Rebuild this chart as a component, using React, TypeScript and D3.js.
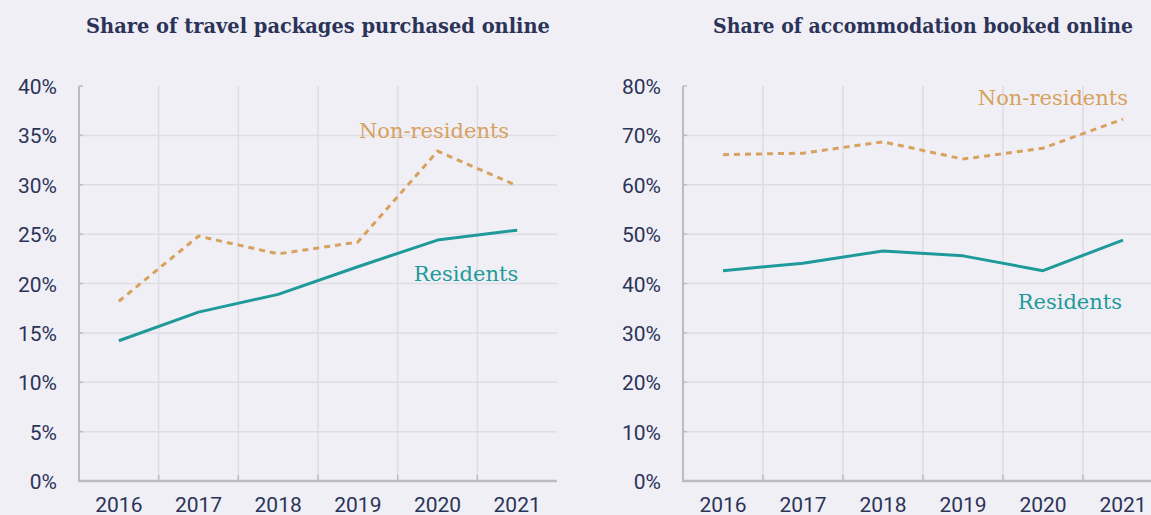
import React from "react";
import * as d3 from "d3";

const years = ["2016", "2017", "2018", "2019", "2020", "2021"];

const packagesResidents = [14.2, 17.1, 18.9, 21.7, 24.4, 25.4];
const packagesNonResidents = [18.2, 24.8, 23.0, 24.2, 33.4, 29.9];

const accommodationResidents = [42.6, 44.1, 46.6, 45.6, 42.6, 48.8];
const accommodationNonResidents = [66.1, 66.4, 68.7, 65.2, 67.4, 73.3];

const packagesTicks = [0, 5, 10, 15, 20, 25, 30, 35, 40];
const accommodationTicks = [0, 10, 20, 30, 40, 50, 60, 70, 80];

const packagesTitle = "Share of travel packages purchased online";
const accommodationTitle = "Share of accommodation booked online";

const W = 1151;
const H = 515;
const TOP = 86;
const BOTTOM = 481;

const NAVY = "#2b3458";
const TEAL = "#1f9a9a";
const GOLD = "#d6a25e";
const GRID = "#dedde3";
const AXIS = "#b9bcc2";
const BG = "#f1eff6";

const tickFont = "Roboto, 'Liberation Sans', sans-serif";
const serifFont = "'DejaVu Serif', serif";

type Label = { anchor: "start" | "end"; dx: number; dy: number; year: string; value: number };

type PanelProps = {
  x0: number;
  x1: number;
  title: string;
  titleWidth: number;
  ticks: number[];
  residents: number[];
  nonResidents: number[];
  labelNon: Label;
  labelRes: Label;
};

function Panel({ x0, x1, title, titleWidth, ticks, residents, nonResidents, labelNon, labelRes }: PanelProps) {
  const x = d3.scaleBand<string>().domain(years).range([x0, x1]);
  const max = ticks[ticks.length - 1];
  const y = d3.scaleLinear().domain([0, max]).range([BOTTOM, TOP]);
  const cx = (yr: string) => (x(yr) as number) + x.bandwidth() / 2;
  const line = d3
    .line<number>()
    .x((_, i) => cx(years[i]))
    .y((v) => y(v));
  const gridX = years.slice(1).map((yr) => x(yr) as number);
  return (
    <g>
      <text
        x={(x0 + x1) / 2}
        y={33}
        textAnchor="middle"
        fontFamily={serifFont}
        fontWeight="bold"
        fontSize={19.5}
        textLength={titleWidth}
        lengthAdjust="spacingAndGlyphs"
        fill={NAVY}
      >
        {title}
      </text>
      {ticks.slice(1, -1).map((t) => (
        <line key={"h" + t} x1={x0} x2={x1} y1={y(t)} y2={y(t)} stroke={GRID} strokeWidth={1.5} />
      ))}
      {gridX.map((gx) => (
        <line key={"v" + gx} x1={gx} x2={gx} y1={TOP} y2={BOTTOM} stroke={GRID} strokeWidth={1.5} />
      ))}
      {ticks.slice(1).map((t) => (
        <line key={"yt" + t} x1={x0} x2={x0 + 4} y1={y(t)} y2={y(t)} stroke={AXIS} strokeWidth={1.5} />
      ))}
      {gridX.map((gx) => (
        <line key={"xt" + gx} x1={gx} x2={gx} y1={BOTTOM - 6} y2={BOTTOM} stroke={AXIS} strokeWidth={1.5} />
      ))}
      <line x1={x0} x2={x0} y1={TOP} y2={BOTTOM + 1} stroke={AXIS} strokeWidth={2} />
      <line x1={x0} x2={x1} y1={BOTTOM} y2={BOTTOM} stroke={AXIS} strokeWidth={2.5} />
      {ticks.map((t) => (
        <text
          key={"yl" + t}
          x={x0 - 22}
          y={y(t) + 8}
          textAnchor="end"
          fontFamily={tickFont}
          fontSize={21}
          fill={NAVY}
        >
          {t + "%"}
        </text>
      ))}
      {years.map((yr) => (
        <text
          key={"xl" + yr}
          x={cx(yr)}
          y={BOTTOM + 31}
          textAnchor="middle"
          fontFamily={tickFont}
          fontSize={21}
          fill={NAVY}
        >
          {yr}
        </text>
      ))}
      <path
        d={line(nonResidents) || ""}
        fill="none"
        stroke={GOLD}
        strokeWidth={3}
        strokeDasharray="6,5"
      />
      <path d={line(residents) || ""} fill="none" stroke={TEAL} strokeWidth={3} strokeLinejoin="round" />
      <text
        x={cx(labelNon.year) + labelNon.dx}
        y={y(labelNon.value) + labelNon.dy}
        textAnchor={labelNon.anchor}
        fontFamily={serifFont}
        fontSize={21}
        fill={GOLD}
      >
        Non-residents
      </text>
      <text
        x={cx(labelRes.year) + labelRes.dx}
        y={y(labelRes.value) + labelRes.dy}
        textAnchor={labelRes.anchor}
        fontFamily={serifFont}
        fontSize={21}
        fill={TEAL}
      >
        Residents
      </text>
    </g>
  );
}

export default function App() {
  return (
    <svg
      width={W}
      height={H}
      style={{ position: "absolute", left: 0, top: 0, display: "block", background: BG }}
    >
      <rect x={0} y={0} width={W} height={H} fill={BG} />
      <Panel
        x0={79}
        x1={557}
        title={packagesTitle}
        titleWidth={464}
        ticks={packagesTicks}
        residents={packagesResidents}
        nonResidents={packagesNonResidents}
        labelNon={{ anchor: "end", dx: -8, dy: 2.5, year: "2021", value: 35 }}
        labelRes={{ anchor: "end", dx: 1, dy: -2.7, year: "2021", value: 20 }}
      />
      <Panel
        x0={683}
        x1={1163}
        title={accommodationTitle}
        titleWidth={420}
        ticks={accommodationTicks}
        residents={accommodationResidents}
        nonResidents={accommodationNonResidents}
        labelNon={{ anchor: "end", dx: 5, dy: 19, year: "2021", value: 80 }}
        labelRes={{ anchor: "end", dx: -1, dy: 25, year: "2021", value: 40 }}
      />
    </svg>
  );
}
